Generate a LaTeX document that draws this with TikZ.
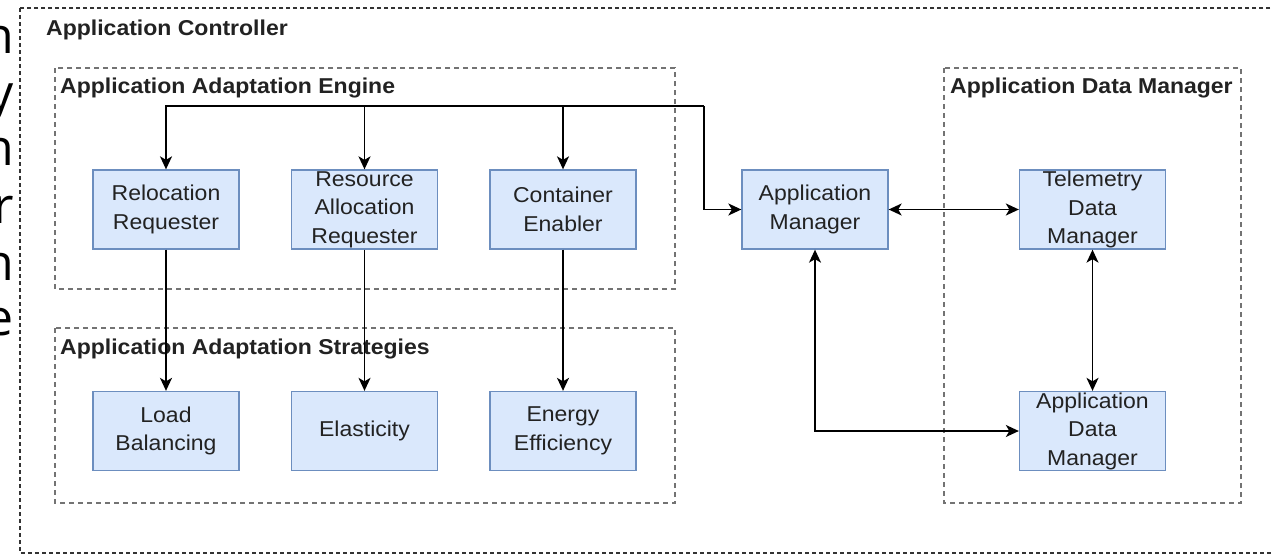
\documentclass[tikz,border=0pt]{standalone}
\usepackage{fontspec}
\setmainfont{Liberation Sans}[FakeStretch=1.07]
\newfontfamily\fragfont{Open Sans}
\usetikzlibrary{arrows.meta}
\definecolor{boxfill}{HTML}{DAE8FC}
\definecolor{boxline}{HTML}{6C8EBF}
\definecolor{txt}{HTML}{222222}
\tikzset{
  comp/.style={draw=boxline, fill=boxfill, line width=1.3pt, minimum width=146pt,
    minimum height=79pt, inner sep=0pt, align=center, text=txt,
    font=\fontsize{21.5}{28.5}\selectfont},
  group/.style={draw=black!55, dash pattern=on 5pt off 4pt, line width=1.4pt},
  outerframe/.style={draw=black!80, dash pattern=on 4pt off 3pt, line width=1.6pt},
  grouplabel/.style={anchor=base west, inner sep=0pt, text=txt,
    font=\bfseries\fontsize{21.5}{26}\selectfont},
  tipshape/.tip={Stealth[length=13pt,width=12pt,inset=3.5pt]},
  flow/.style={draw=black, line width=1.6pt, -tipshape},
  flowboth/.style={draw=black, line width=1.6pt, tipshape-tipshape},
  frag/.style={anchor=base east, inner sep=0pt, font=\fragfont\fontsize{50}{56}\selectfont}
}
\begin{document}
\begin{tikzpicture}[x=1pt,y=-1pt]
\useasboundingbox (0,0) rectangle (1273,554);
\clip (0,0) rectangle (1273,554);
\fill[white] (0,0) rectangle (1273,554);

% text running past the left edge
\node[frag] (fa) at (14,53) {n};
\node[frag] (fb) at (14,110) {y};
\node[frag] (fc) at (14,165) {n};
\node[frag] (fd) at (14,223) {r};
\node[frag] (fe) at (14,280) {n};
\node[frag] (ff) at (14,335) {e};

% frames
\draw[outerframe] (20,8) rectangle (1290,553);
\node[grouplabel] (lctl) at (46,35) {Application Controller};

\draw[group] (55,68) rectangle (675,289);
\node[grouplabel] (leng) at (60,93) {Application Adaptation Engine};

\draw[group] (55,328) rectangle (675,503);
\node[grouplabel] (lstr) at (60,354) {Application Adaptation Strategies};

\draw[group] (944,68) rectangle (1241,503);
\node[grouplabel] (ldm) at (950,93) {Application Data Manager};

% components
\node[comp] (reloc) at (166,209.5) {Relocation\\Requester};
\node[comp] (res)   at (364.5,209.5) {Resource\\Allocation\\Requester};
\node[comp] (cont)  at (563,209.5) {Container\\Enabler};
\node[comp] (load)  at (166,431) {Load\\Balancing};
\node[comp] (elas)  at (364.5,431) {Elasticity};
\node[comp] (ener)  at (563,431) {Energy\\Efficiency};
\node[comp] (amgr)  at (815,209.5) {Application\\Manager};
\node[comp] (tel)   at (1092.5,209.5) {Telemetry\\Data\\Manager};
\node[comp] (adm)   at (1092.5,431) {Application\\Data\\Manager};

% request bus from the application manager
\coordinate (bus) at (704,106);
\draw[flow] (bus) |- (amgr.west);
\draw[flow] (bus) -- (reloc.north |- bus) -- (reloc.north);
\draw[flow] (res.north |- bus) -- (res.north);
\draw[flow] (cont.north |- bus) -- (cont.north);

% engine to strategies
\draw[flow] (reloc.south) -- (load.north);
\draw[flow] (res.south) -- (elas.north);
\draw[flow] (cont.south) -- (ener.north);

% data manager links
\draw[flowboth] (amgr.east) -- (tel.west);
\draw[flowboth] (tel.south) -- (adm.north);
\draw[flowboth] (amgr.south) |- (adm.west);
\end{tikzpicture}
\end{document}
